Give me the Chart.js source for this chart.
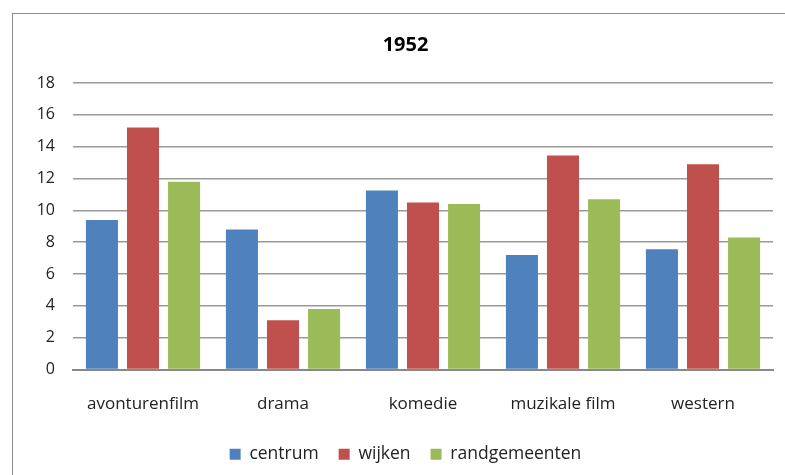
<!DOCTYPE html>
<html>
<head>
<meta charset="utf-8">
<script src="https://cdn.jsdelivr.net/npm/chart.js@4"></script>
<style>
    body { margin: 0; background: #fff; }
    #wrap { position: relative; width: 785px; height: 475px; overflow: hidden; }
    #frame { position: absolute; left: 12px; top: 13px; width: 800px; height: 500px; border: 1px solid #8c8c8c; box-sizing: border-box; }
    canvas { position: absolute; left: 0; top: 0; }
</style>
</head>
<body>
<div id="wrap">
    <div id="frame"></div>
    <canvas id="chart" width="785" height="475"></canvas>
</div>
<script>
// genres
const categories = ['avonturenfilm', 'drama', 'komedie', 'muzikale film', 'western'];

// series values
const centrum = [9.4, 8.8, 11.25, 7.2, 7.55];
const wijken = [15.2, 3.1, 10.5, 13.45, 12.9];
const randgemeenten = [11.8, 3.8, 10.4, 10.7, 8.3];

const yTicks = [0, 2, 4, 6, 8, 10, 12, 14, 16, 18];

const fontFamily = "'Open Sans', 'Liberation Sans', sans-serif";

new Chart(document.getElementById('chart'), {
    type: 'bar',
    data: {
        labels: categories,
        datasets: [
            { label: 'centrum', data: centrum, backgroundColor: '#4f81bd' },
            { label: 'wijken', data: wijken, backgroundColor: '#c0504d' },
            { label: 'randgemeenten', data: randgemeenten, backgroundColor: '#9bbb59' }
        ]
    },
    options: {
        responsive: false,
        animation: false,
        categoryPercentage: 0.88,
        barPercentage: 0.78,
        // left padding + y axis width put the plot edge at x=73
        layout: { padding: { left: 38, right: 12, top: 0, bottom: 2 } },
        plugins: {
            title: {
                display: true,
                text: '1952',
                color: '#000',
                font: { family: fontFamily, size: 20, weight: 'bold' },
                padding: { top: 33, bottom: 26 }
            },
            legend: {
                position: 'bottom',
                labels: {
                    color: '#222',
                    font: { family: fontFamily, size: 17.5 },
                    boxWidth: 11,
                    boxHeight: 11,
                    padding: 20
                }
            },
            tooltip: { enabled: false }
        },
        scales: {
            y: {
                min: 0,
                max: 18,
                afterBuildTicks: axis => { axis.ticks = yTicks.map(v => ({ value: v })); },
                afterFit: axis => { axis.width = 35; },
                ticks: {
                    color: '#222',
                    padding: 18,
                    font: { family: fontFamily, size: 16 }
                },
                grid: { color: '#999', lineWidth: 1.5, drawTicks: false },
                border: { display: false }
            },
            x: {
                afterFit: axis => { axis.height = 56; },
                ticks: {
                    color: '#222',
                    padding: 24,
                    font: { family: fontFamily, size: 17 }
                },
                grid: { display: false, drawTicks: false },
                border: { color: '#888', width: 2 }
            }
        }
    }
});
</script>
</body>
</html>
